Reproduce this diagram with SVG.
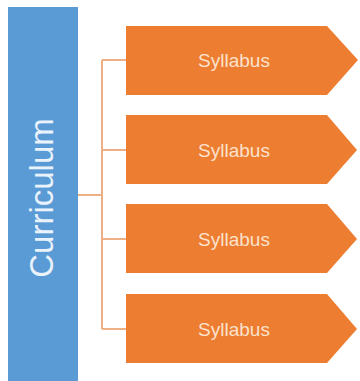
<svg xmlns="http://www.w3.org/2000/svg" width="360" height="381" viewBox="0 0 360 381">
<style>
.bg{fill:#ffffff}
.main{fill:#5b9bd5}
.arrow{fill:#ed7d31}
.lbl{font-family:"Liberation Sans",Arial,sans-serif;font-size:19px;fill:#fbe2cc;text-anchor:middle}
.title{font-family:"Liberation Sans",Arial,sans-serif;font-size:33px;fill:#eaf2fb;text-anchor:middle}
.conn{stroke:#eeaf82;stroke-width:2;fill:none}
</style>
<rect class="bg" x="0" y="0" width="360" height="381"/>
<g id="connectors">
<path class="conn" d="M78 195H102M102 60V329M102 60H126M102 150H126M102 239H126M102 329H126"/>
</g>
<g id="curriculum">
<rect class="main" x="8" y="7" width="70" height="374"/>
<text class="title" transform="translate(53,198) rotate(-90)">Curriculum</text>
</g>
<g id="syllabus1">
<polygon class="arrow" points="126,26 327,26 358,60 327,95 126,95"/>
<text class="lbl" x="234" y="67">Syllabus</text>
</g>
<g id="syllabus2">
<polygon class="arrow" points="126,115 327,115 357,150 327,184 126,184"/>
<text class="lbl" x="234" y="157">Syllabus</text>
</g>
<g id="syllabus3">
<polygon class="arrow" points="126,204 327,204 357,239 327,273 126,273"/>
<text class="lbl" x="234" y="246">Syllabus</text>
</g>
<g id="syllabus4">
<polygon class="arrow" points="126,294 327,294 357,329 327,363 126,363"/>
<text class="lbl" x="234" y="336">Syllabus</text>
</g>
</svg>
